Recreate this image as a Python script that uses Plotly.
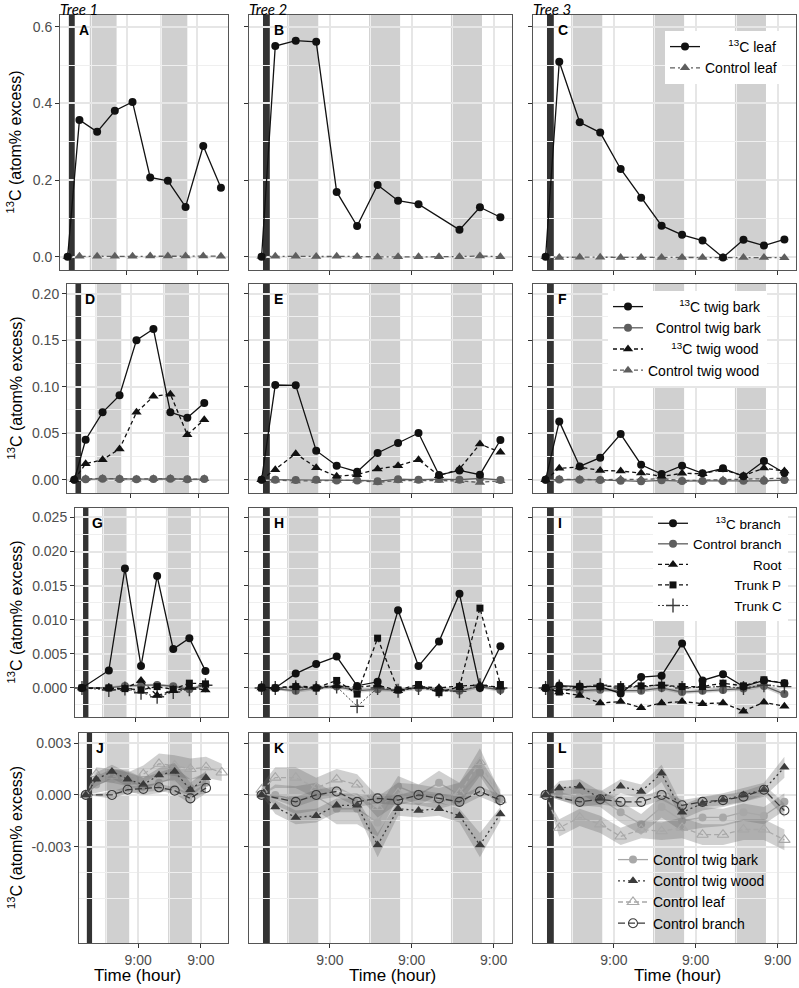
import plotly.graph_objects as go

W, H = 799, 988

# ---------------- data ----------------
TIMES = [13, 17, 23, 29, 35, 41, 47, 53, 59, 65, 71, 77, 83]   # hours since day-1 00:00
NIGHTS = [(20.5, 29.6), (44.5, 53.6), (68.5, 77.6)]
PULSE = (13.4, 15.4)
TICK_HOURS = [33, 57, 81]
TICK_LABELS = ["9:00", "9:00", "9:00"]
TREES = ["Tree 1", "Tree 2", "Tree 3"]
LETTERS = ["A", "B", "C", "D", "E", "F", "G", "H", "I", "J", "K", "L"]

LEAF_13C = {
    1: [0.0, 0.357, 0.326, 0.381, 0.404, 0.207, 0.198, 0.130, 0.289, 0.180],
    2: [0.0, 0.550, 0.564, 0.561, 0.169, 0.080, 0.187, 0.146, 0.137, None, 0.070, 0.129, 0.103],
    3: [0.0, 0.509, 0.351, 0.324, 0.229, 0.154, 0.081, 0.057, 0.042, -0.002, 0.044, 0.029, 0.045],
}
TWIG_BARK_13C = {
    1: [0.0, 0.043, 0.0724, 0.0907, 0.150, 0.162, 0.0724, 0.0667, 0.0824],
    2: [0.0, 0.1018, 0.1015, 0.0312, 0.015, 0.0086, 0.0287, 0.0394, 0.0502, 0.005, 0.010, 0.0054, 0.0427],
    3: [0.0, 0.0627, 0.0143, 0.0237, 0.049, 0.0161, 0.0061, 0.015, 0.0068, 0.0122, 0.0036, 0.0201, 0.0072],
}
TWIG_WOOD_13C = {
    1: [0.0, 0.0172, 0.0215, 0.033, 0.0724, 0.0896, 0.092, 0.0484, 0.0645],
    2: [0.0, 0.0108, 0.028, 0.0129, 0.0036, 0.0054, 0.0115, 0.015, 0.0215, 0.0043, 0.0115, 0.0384, 0.0294],
    3: [0.0, 0.0122, 0.0136, 0.010, 0.0093, 0.0072, 0.0036, 0.0068, 0.0065, 0.0108, 0.0043, 0.0125, 0.0093],
}
BRANCH_13C = {
    1: [0.0, None, 0.00256, 0.0175, 0.0032, 0.0164, 0.0057, 0.0073, 0.0025],
    2: [0.0001, 0.0, 0.0021, 0.0035, 0.0046, 0.0003, 0.0009, 0.0114, 0.0032, 0.0068, 0.0138, 0.0, 0.0061],
    3: [0.0, 0.00035, 0.0002, 0.0002, -0.0008, 0.0016, 0.0018, 0.0065, 0.0011, 0.002, 0.0002, 0.0011, 0.0007],
}
ROOT = {
    1: [0.0, None, 0.0, -0.0001, 0.0011, -0.0011, -0.0004, 0.0001, -0.0003],
    2: [0.0, 0.0, 0.0003, 0.0001, 0.0003, 0.0001, 0.0004, -0.0004, 0.0002, 0.0, 0.0003, 0.0004, 0.0001],
    3: [0.0, -0.0006, -0.0011, -0.0022, -0.002, -0.0029, -0.0022, -0.002, -0.0023, -0.0022, -0.0034, -0.0021, -0.0027],
}
TRUNK_P = {
    1: [0.0, None, 0.0, -0.0001, -0.0003, 0.0002, -0.0002, 0.0007, 0.0006],
    2: [0.0, 0.0, 0.0002, 0.0, 0.0011, -0.0009, 0.0073, -0.0003, 0.0005, -0.0007, 0.0002, 0.0117, 0.0005],
    3: [0.0, -0.0006, 0.0002, 0.0002, 0.0002, 0.0003, 0.0004, 0.0002, 0.0002, 0.0007, 0.0003, 0.0012, 0.0007],
}
TRUNK_C = {
    1: [0.0, None, -0.0003, -0.0001, -0.0007, -0.0013, -0.0006, -0.0002, 0.0004],
    2: [0.0, 0.0, 0.0001, 0.0, 0.0002, -0.0027, 0.0, -0.0004, 0.0, -0.0004, -0.0005, 0.0004, 0.0],
    3: [0.0, 0.0002, 0.0001, 0.0004, 0.0, 0.0002, 0.0004, 0.0, 0.0001, 0.0002, 0.0, 0.0004, 0.0002],
}
CTRL_LEAF = {
    1: [0.0, 0.0012, 0.0011, 0.0009, 0.0012, 0.0018, 0.0017, 0.0015, 0.0016, 0.0013],
    2: [0.0003, 0.001, 0.001, 0.0004, 0.0009, 0.0006, -0.0007, 0.0001, 0.0, -0.0002, 0.0001, 0.0019, -0.0003],
    3: [0.0, -0.0019, -0.0013, -0.0017, -0.0024, -0.002, -0.0021, -0.0019, -0.0023, -0.0023, -0.002, -0.002, -0.0026],
}
CTRL_TWIG_BARK = {
    1: [0.0, 0.0006, 0.0009, 0.0008, 0.0005, 0.0007, 0.001, 0.0004, 0.0007],
    2: [0.0, 0.0, -0.0003, -0.0001, -0.0008, -0.0008, -0.0016, 0.0005, 0.0, 0.0007, 0.0, 0.0013, -0.0002],
    3: [0.0, 0.0001, -0.0001, -0.0002, -0.001, -0.0017, -0.0007, -0.0015, -0.0013, -0.0013, -0.001, -0.0012, -0.0004],
}
CTRL_TWIG_WOOD = {
    1: [0.0, 0.0009, 0.00135, 0.0009, 0.0006, 0.00115, 0.00135, 0.0003, 0.001],
    2: [0.0, -0.0007, -0.0013, -0.0012, -0.0006, -0.0006, -0.0029, -0.0008, -0.0009, -0.0008, -0.0012, -0.0029, -0.0011],
    3: [0.0, 0.0004, 0.0005, -0.0002, 0.0005, 0.0002, 0.00125, -0.001, -0.0005, -0.0003, 0.0, 0.0003, 0.0016],
}
CTRL_BRANCH = {
    1: [0.0, None, 0.0, 0.0003, 0.00035, 0.00044, 0.00025, -0.0002, 0.0004],
    2: [0.0, None, -0.0004, 0.0, 0.0002, -0.0004, -0.0002, -0.0003, 0.0, -0.0002, -0.0004, 0.0002, -0.0003],
    3: [0.0, None, -0.0004, -0.00025, -0.0004, -0.0004, 0.0, -0.0006, -0.0004, -0.0003, -0.0001, 0.0003, -0.0009],
}
# standard errors (ribbons) of the control means
CTRL_LEAF_SE = {
    1: [0.0, 0.0004, 0.0004, 0.0004, 0.0005, 0.0006, 0.0006, 0.0006, 0.0006, 0.0005],
    2: [0.0003, 0.0006, 0.0006, 0.0006, 0.0006, 0.0006, 0.0006, 0.0006, 0.0006, 0.0006, 0.0006, 0.0008, 0.0004],
    3: [0.0, 0.0005, 0.0005, 0.0005, 0.0005, 0.0005, 0.0005, 0.0006, 0.0006, 0.0006, 0.0006, 0.0006, 0.0006],
}
CTRL_TWIG_BARK_SE = {
    1: [0.0, 0.0005, 0.0006, 0.0006, 0.0005, 0.0006, 0.0006, 0.0005, 0.0006],
    2: [0.0, 0.0006, 0.0008, 0.0008, 0.0009, 0.0009, 0.0008, 0.0006, 0.0006, 0.0007, 0.0007, 0.0008, 0.0005],
    3: [0.0, 0.0004, 0.0005, 0.0005, 0.0006, 0.0006, 0.0006, 0.0006, 0.0006, 0.0005, 0.0005, 0.0005, 0.0005],
}
CTRL_TWIG_WOOD_SE = {
    1: [0.0, 0.0004, 0.0004, 0.0004, 0.0004, 0.0004, 0.0005, 0.0004, 0.0004],
    2: [0.0, 0.0004, 0.0004, 0.0004, 0.0004, 0.0004, 0.0007, 0.0004, 0.0004, 0.0004, 0.0004, 0.0007, 0.0004],
    3: [0.0, 0.0004, 0.0004, 0.0004, 0.0004, 0.0004, 0.0005, 0.0004, 0.0004, 0.0004, 0.0004, 0.0004, 0.0006],
}
CTRL_BRANCH_SE = {
    1: [0.0, None, 0.0002, 0.0002, 0.0002, 0.0002, 0.0002, 0.0003, 0.0003],
    2: [0.0, None, 0.0003, 0.0003, 0.0003, 0.0003, 0.0003, 0.0003, 0.0003, 0.0003, 0.0003, 0.0003, 0.0003],
    3: [0.0, None, 0.0003, 0.0003, 0.0003, 0.0003, 0.0003, 0.0003, 0.0003, 0.0003, 0.0003, 0.0003, 0.0004],
}

ROW_YTICKS = [
    [0.0, 0.2, 0.4, 0.6],
    [0.0, 0.05, 0.10, 0.15, 0.20],
    [0.0, 0.005, 0.010, 0.015, 0.020, 0.025],
    [-0.003, 0.0, 0.003],
]
ROW_YTEXT = [
    ["0.0", "0.2", "0.4", "0.6"],
    ["0.00", "0.05", "0.10", "0.15", "0.20"],
    ["0.000", "0.005", "0.010", "0.015", "0.020", "0.025"],
    ["-0.003", "0.000", "0.003"],
]
ROW_YMINOR = [
    [0.1, 0.3, 0.5],
    [0.025, 0.075, 0.125, 0.175],
    [-0.0025, 0.0025, 0.0075, 0.0125, 0.0175, 0.0225],
    [-0.006, -0.0045, -0.0015, 0.0015],
]

# legend labels (padding right-aligns the text as in the original legends)
NB = "\u00a0"
LBL_LEAF13 = NB * 6 + "<sup>13</sup>C leaf"
LBL_TB13 = NB * 8 + "<sup>13</sup>C twig bark"
LBL_CTB = NB * 2 + "Control twig bark"
LBL_TW13 = NB * 6 + "<sup>13</sup>C twig wood"
LBL_BR13 = NB * 6 + "<sup>13</sup>C branch"
LBL_ROOT = NB * 16 + "Root"
LBL_TP = NB * 11 + "Trunk P"
LBL_TC = NB * 11 + "Trunk C"

# ---------------- layout geometry (pixels) ----------------
ROW_PX = [(15, 270), (284, 493), (508, 717), (733, 943)]
COL1_LEFT = [60, 67, 75, 79]
COL_PX = [(None, 228), (249, 512), (533, 796)]
YRANGES = [(-0.0348, 0.631), (-0.0143, 0.2104), (-0.00426, 0.02638), (-0.00856, 0.00358)]
XRANGES = [(10.4, 67.4), (9.3, 86.4), (9.3, 86.4)]

FONT = "Liberation Sans, Arial, sans-serif"
BLACK = "#111111"
GREY = "#5e5e5e"
LIGHT = "#a8a8a8"
DARK = "#3a3a3a"
RIBBON = "rgba(100,100,100,0.30)"
GRID = "#e6e6e6"

fig = go.Figure()
layout = dict(width=W, height=H, margin=dict(l=0, r=0, t=0, b=0), autosize=False,
              paper_bgcolor="white", plot_bgcolor="white", showlegend=True,
              font=dict(family=FONT, color="black"))
shapes, annotations = [], []


def ax_names(n):
    s = "" if n == 1 else str(n)
    return "x" + s, "y" + s, "xaxis" + s, "yaxis" + s


for r in range(4):
    for c in range(3):
        n = r * 3 + c + 1
        xn, yn, xk, yk = ax_names(n)
        x0 = COL1_LEFT[r] if c == 0 else COL_PX[c][0]
        x1 = COL_PX[c][1]
        y0, y1 = ROW_PX[r]
        layout[xk] = dict(
            domain=[x0 / W, x1 / W], range=list(XRANGES[c]), anchor=yn,
            tickvals=TICK_HOURS, ticktext=TICK_LABELS, showticklabels=(r == 3),
            ticks="outside", ticklen=4, tickwidth=1, tickcolor="#333333",
            tickfont=dict(size=14, color="#4d4d4d", family=FONT),
            showgrid=True, gridcolor=GRID, gridwidth=1.5,
            minor=dict(tickvals=[21, 45, 69], showgrid=True, gridcolor="#efefef", gridwidth=0.8, ticks=""),
            showline=True, linecolor="#555555", linewidth=1, mirror=True, zeroline=False,
        )
        layout[yk] = dict(
            domain=[1 - y1 / H, 1 - y0 / H], range=list(YRANGES[r]), anchor=xn,
            tickvals=ROW_YTICKS[r], ticktext=ROW_YTEXT[r], showticklabels=(c == 0),
            ticks="outside", ticklen=4, tickwidth=1, tickcolor="#333333",
            tickfont=dict(size=14, color="#4d4d4d", family=FONT),
            showgrid=True, gridcolor=GRID, gridwidth=1.5,
            minor=dict(tickvals=ROW_YMINOR[r], showgrid=True, gridcolor="#efefef", gridwidth=0.8, ticks=""),
            showline=True, linecolor="#555555", linewidth=1, mirror=True, zeroline=False,
        )
        # night bands
        for a, b in NIGHTS:
            lo, hi = max(a, XRANGES[c][0]), min(b, XRANGES[c][1])
            if lo < hi:
                shapes.append(dict(type="rect", xref=xn, yref=yn + " domain", x0=lo, x1=hi, y0=0, y1=1,
                                   fillcolor="#d0d0d0", line=dict(width=0), layer="below"))
        shapes.append(dict(type="rect", xref=xn, yref=yn + " domain", x0=PULSE[0], x1=PULSE[1], y0=0, y1=1,
                           fillcolor="#333333", line=dict(width=0), layer="below"))
        # panel letter
        annotations.append(dict(text="<b>%s</b>" % LETTERS[n - 1], xref=xn, yref=yn + " domain",
                                x=16.1, y=1, xanchor="left", yanchor="middle", yshift=-15, showarrow=False,
                                font=dict(size=14, color="black", family=FONT)))
    # y axis title
    yc = (ROW_PX[r][0] + ROW_PX[r][1]) / 2
    annotations.append(dict(text="<sup>13</sup>C (atom% excess)", xref="paper", yref="paper",
                            x=15 / W, y=1 - yc / H, textangle=-90, showarrow=False,
                            xanchor="center", yanchor="middle", font=dict(size=16, color="black", family=FONT)))

# tree titles and x titles
for c in range(3):
    left = COL1_LEFT[0] if c == 0 else COL_PX[c][0]
    annotations.append(dict(text="<i>%s</i>" % TREES[c], xref="paper", yref="paper", x=(left - 1) / W,
                            y=1.0, xanchor="left", yanchor="top", yshift=1, showarrow=False, borderpad=0,
                            font=dict(size=15, color="black", family="Lato, Open Sans, sans-serif")))
for xc in [137, 392, 677]:
    annotations.append(dict(text="Time (hour)", xref="paper", yref="paper", x=xc / W, y=1 - 975 / H,
                            xanchor="center", yanchor="middle", showarrow=False,
                            font=dict(size=17, color="black", family=FONT)))


def add_series(n, vals, name, color, symbol, dash, size=8, lw=1.3, legend=None, rank=None,
               open_marker=False, se=None, thin=False):
    xn, yn, _, _ = ax_names(n)
    xs = TIMES[:len(vals)]
    if se is not None:
        pts = [(x, v, s) for x, v, s in zip(xs, vals, se) if v is not None and s is not None]
        rx = [p[0] for p in pts]
        hi = [p[1] + p[2] for p in pts]
        lo = [p[1] - p[2] for p in pts]
        fig.add_trace(go.Scatter(x=rx + rx[::-1], y=hi + lo[::-1], fill="toself", fillcolor=RIBBON,
                                 mode="lines", line=dict(width=0), showlegend=False, hoverinfo="skip",
                                 xaxis=xn, yaxis=yn))
    marker = dict(symbol=symbol, size=size, color=color)
    if open_marker or thin:
        marker["line"] = dict(width=1.4 if thin else 1.1, color=color)
    fig.add_trace(go.Scatter(
        x=xs, y=vals, mode="lines+markers", connectgaps=True, name=name,
        line=dict(color=color, width=lw, dash=dash), marker=marker,
        showlegend=legend is not None, legend=legend if legend else "legend",
        legendrank=rank if rank else 1000, xaxis=xn, yaxis=yn, hoverinfo="skip"))


for c in range(3):
    t = c + 1
    last = (c == 2)
    # row 1 : leaves
    n = 1 + c
    add_series(n, CTRL_LEAF[t], "Control leaf", GREY, "triangle-up", "5px,3px,2px,3px", size=9,
               legend="legend" if last else None, rank=2)
    add_series(n, LEAF_13C[t], LBL_LEAF13, BLACK, "circle", "solid", size=8,
               legend="legend" if last else None, rank=1)
    # row 2 : twigs
    n = 4 + c
    lg = "legend2" if last else None
    add_series(n, CTRL_TWIG_WOOD[t], "Control twig wood", GREY, "triangle-up", "4px,3px", size=9, legend=lg, rank=4)
    add_series(n, CTRL_TWIG_BARK[t], LBL_CTB, GREY, "circle", "solid", size=8, legend=lg, rank=2)
    add_series(n, TWIG_WOOD_13C[t], LBL_TW13, BLACK, "triangle-up", "4px,3px", size=9, legend=lg, rank=3)
    add_series(n, TWIG_BARK_13C[t], LBL_TB13, BLACK, "circle", "solid", size=8, legend=lg, rank=1)
    # row 3 : branch, trunk, root
    n = 7 + c
    lg = "legend3" if last else None
    add_series(n, CTRL_BRANCH[t], "Control branch", GREY, "circle", "solid", size=8, legend=lg, rank=2,
               se=CTRL_BRANCH_SE[t])
    add_series(n, TRUNK_C[t], LBL_TC, DARK, "cross-thin", "2px,2px", size=10, lw=1.0, legend=lg, rank=5, thin=True)
    add_series(n, ROOT[t], LBL_ROOT, BLACK, "triangle-up", "4px,3px", size=9, legend=lg, rank=3)
    add_series(n, TRUNK_P[t], LBL_TP, BLACK, "square", "4px,3px", size=7, legend=lg, rank=4)
    add_series(n, BRANCH_13C[t], LBL_BR13, BLACK, "circle", "solid", size=8, legend=lg, rank=1)
    # row 4 : controls with ribbons
    n = 10 + c
    lg = "legend4" if last else None
    add_series(n, CTRL_TWIG_BARK[t], "Control twig bark", LIGHT, "circle", "solid", size=8, legend=lg, rank=1,
               se=CTRL_TWIG_BARK_SE[t])
    add_series(n, CTRL_LEAF[t], "Control leaf", LIGHT, "triangle-up-open", "5px,3px", size=10, legend=lg, rank=3,
               open_marker=True, se=CTRL_LEAF_SE[t])
    add_series(n, CTRL_TWIG_WOOD[t], "Control twig wood", DARK, "triangle-up", "2px,3px", size=9, legend=lg, rank=2,
               se=CTRL_TWIG_WOOD_SE[t])
    add_series(n, CTRL_BRANCH[t], "Control branch", DARK, "circle-open", "7px,3px", size=9, legend=lg, rank=4,
               open_marker=True, se=CTRL_BRANCH_SE[t])


def leg(x_px, top_px, size, bg):
    return dict(x=x_px / W, y=1 - top_px / H, xanchor="left", yanchor="top", borderwidth=0, itemwidth=30,
                tracegroupgap=0, bgcolor=bg, traceorder="normal",
                font=dict(size=size, color="black", family=FONT))


layout["legend"] = leg(665, 31, 14, "white")
layout["legend2"] = leg(608, 291, 14, "white")
layout["legend3"] = leg(653, 508, 13.5, "white")
layout["legend4"] = leg(613, 844, 14, "rgba(0,0,0,0)")
layout["shapes"] = shapes
layout["annotations"] = annotations
fig.update_layout(**layout)

fig.write_html("out.html", config={"displayModeBar": False},
               post_script="document.body.style.margin='0';document.body.style.overflow='hidden';"
                           "document.documentElement.style.overflow='hidden';")
